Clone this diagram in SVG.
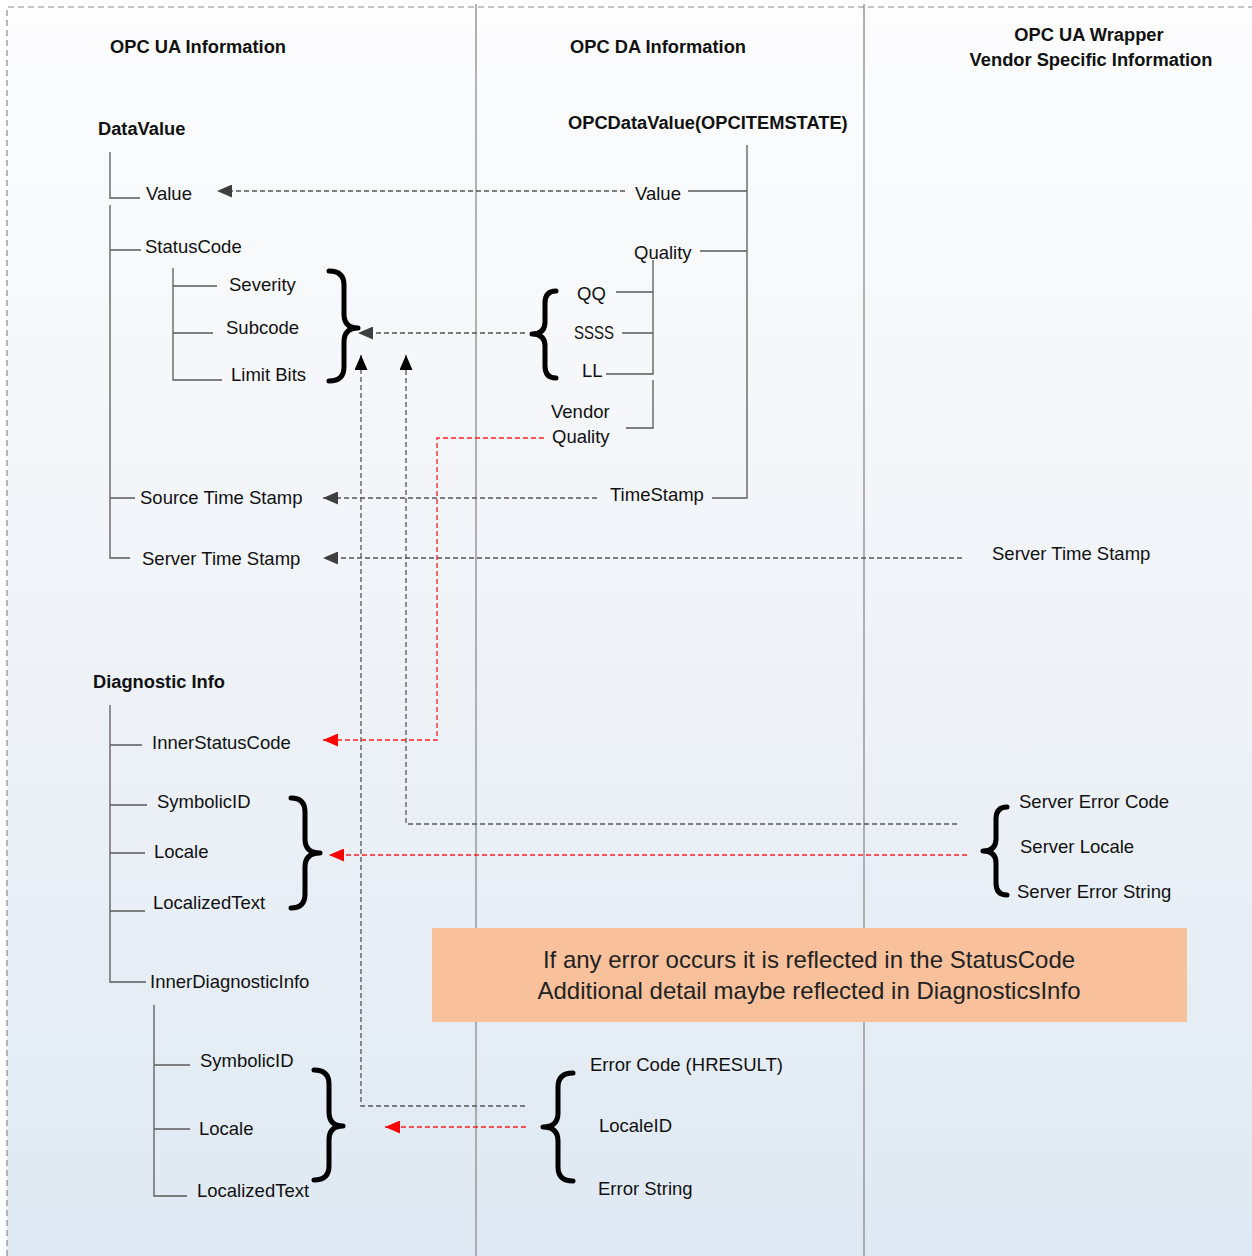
<svg xmlns="http://www.w3.org/2000/svg" width="1252" height="1256" viewBox="0 0 1252 1256">
<defs>
<linearGradient id="bg" x1="0" y1="0" x2="0" y2="1">
<stop offset="0" stop-color="#fdfdfe"/>
<stop offset="0.45" stop-color="#f1f4f8"/>
<stop offset="1" stop-color="#dfe9f3"/>
</linearGradient>
<marker id="ag" viewBox="0 0 15 13" refX="15" refY="6.5" markerWidth="15" markerHeight="13" markerUnits="userSpaceOnUse" orient="auto"><path d="M0,0 L15,6.5 L0,13 z" fill="#3f3f3f"/></marker>
<marker id="ab" viewBox="0 0 15 13" refX="15" refY="6.5" markerWidth="15" markerHeight="13" markerUnits="userSpaceOnUse" orient="auto"><path d="M0,0 L15,6.5 L0,13 z" fill="#000"/></marker>
<marker id="ar" viewBox="0 0 15 13" refX="15" refY="6.5" markerWidth="15" markerHeight="13" markerUnits="userSpaceOnUse" orient="auto"><path d="M0,0 L15,6.5 L0,13 z" fill="#ff0000"/></marker>
</defs>
<style>
text{font-family:"Liberation Sans","DejaVu Sans",sans-serif;font-size:18.5px;fill:#111}
.h{font-weight:bold;font-size:18.3px}
.tree{stroke:#5a5a5a;stroke-width:1.3;fill:none}
.sep{stroke:#8a8a8a;stroke-width:1.3;fill:none}
.brace{stroke:#000;stroke-width:5;fill:none;stroke-linecap:round;stroke-linejoin:round}
.dg{stroke:#555;stroke-width:1.3;stroke-dasharray:5,3;fill:none}
.rd{stroke:#ff2020;stroke-width:1.3;stroke-dasharray:5,3;fill:none}
.note{font-size:24px;fill:#222}
</style>
<rect x="0" y="0" width="1252" height="1256" fill="#fff"/>
<rect x="7" y="7" width="1245" height="1249" fill="url(#bg)"/>
<path d="M7,1256 L7,7 L1252,7" stroke="#8a8a8a" stroke-width="1.2" stroke-dasharray="6,4" fill="none"/>
<g id="separators">
<line class="sep" x1="476" y1="4" x2="476" y2="1256"/>
<line class="sep" x1="864" y1="4" x2="864" y2="1256"/>
</g>
<g id="headers">
<text class="h" x="110" y="53">OPC UA Information</text>
<text class="h" x="570" y="53">OPC DA Information</text>
<text class="h" x="1089" y="41" text-anchor="middle">OPC UA Wrapper</text>
<text class="h" x="1091" y="66" text-anchor="middle">Vendor Specific Information</text>
</g>
<g id="note">
<rect x="432" y="928" width="755" height="94" fill="#f8c19c"/>
<text class="note" x="809" y="968" text-anchor="middle">If any error occurs it is reflected in the StatusCode</text>
<text class="note" x="809" y="999" text-anchor="middle">Additional detail maybe reflected in DiagnosticsInfo</text>
</g>
<g id="datavalue">
<text class="h" x="98" y="135">DataValue</text>
<path class="tree" d="M110,152 L110,198 L140,198 M110,205 L110,558 L130,558 M110,250 L141,250 M110,498 L135,498"/>
<text x="146" y="200">Value</text>
<text x="145" y="253">StatusCode</text>
<text x="140" y="504">Source Time Stamp</text>
<text x="142" y="565">Server Time Stamp</text>
</g>
<g id="statuscode">
<path class="tree" d="M173,268 L173,380 L222,380 M173,286 L217,286 M173,333 L213,333"/>
<text x="229" y="291">Severity</text>
<text x="226" y="334">Subcode</text>
<text x="231" y="381">Limit Bits</text>
<path class="brace" d="M329,271 Q344,271 344,285 L344,314 Q344,328 358,328 Q344,328 344,342 L344,367 Q344,381 329,381"/>
</g>
<g id="opcdatavalue">
<text class="h" x="568" y="129">OPCDataValue(OPCITEMSTATE)</text>
<path class="tree" d="M747,145 L747,498 L712,498 M747,191 L688,191 M747,251 L700,251"/>
<text x="635" y="200">Value</text>
<text x="634" y="259">Quality</text>
<text x="610" y="501">TimeStamp</text>
</g>
<g id="quality">
<path class="tree" d="M653,260 L653,374 L606,374 M653,292 L616,292 M653,333 L622,333 M653,380 L653,428 L626,428"/>
<text x="577" y="300">QQ</text>
<text x="574" y="339" textLength="40" lengthAdjust="spacingAndGlyphs">SSSS</text>
<text x="582" y="377">LL</text>
<text x="551" y="418">Vendor</text>
<text x="552" y="443">Quality</text>
<path class="brace" d="M556,291 Q545,291 545,303 L545,322 Q545,334 532,334 Q545,334 545,346 L545,366 Q545,378 556,378"/>
</g>
<g id="diagnosticinfo">
<text class="h" x="93" y="688">Diagnostic Info</text>
<path class="tree" d="M110,705 L110,982 L146,982 M110,745 L142,745 M110,805 L147,805 M110,853 L145,853 M110,911 L145,911"/>
<text x="152" y="749">InnerStatusCode</text>
<text x="157" y="808">SymbolicID</text>
<text x="154" y="858">Locale</text>
<text x="153" y="909">LocalizedText</text>
<text x="150" y="988">InnerDiagnosticInfo</text>
<path class="brace" d="M291,798 Q305,798 305,812 L305,839 Q305,853 320,853 Q305,853 305,867 L305,894 Q305,908 291,908"/>
</g>
<g id="innerdiagnosticinfo">
<path class="tree" d="M154,1005 L154,1196 L187,1196 M154,1065 L190,1065 M154,1129 L190,1129"/>
<text x="200" y="1067">SymbolicID</text>
<text x="199" y="1135">Locale</text>
<text x="197" y="1197">LocalizedText</text>
<path class="brace" d="M314,1070 Q329,1070 329,1084 L329,1112 Q329,1126 343,1126 Q329,1126 329,1140 L329,1166 Q329,1180 314,1180"/>
</g>
<g id="wrapper">
<text x="992" y="560">Server Time Stamp</text>
<text x="1019" y="808">Server Error Code</text>
<text x="1020" y="853">Server Locale</text>
<text x="1017" y="898">Server Error String</text>
<path class="brace" d="M1007,807 Q996,807 996,819 L996,839 Q996,851 983,851 Q996,851 996,863 L996,883 Q996,895 1007,895"/>
</g>
<g id="hresult">
<text x="590" y="1071">Error Code (HRESULT)</text>
<text x="599" y="1132">LocaleID</text>
<text x="598" y="1195">Error String</text>
<path class="brace" d="M573,1073 Q558,1073 558,1087 L558,1113 Q558,1127 543,1127 Q558,1127 558,1141 L558,1167 Q558,1181 573,1181"/>
</g>
<g id="connectors">
<path class="dg" d="M625,191 L217,191" marker-end="url(#ag)"/>
<path class="dg" d="M525,333 L358,333" marker-end="url(#ag)"/>
<path class="dg" d="M597,498 L323,498" marker-end="url(#ag)"/>
<path class="dg" d="M962,558 L323,558" marker-end="url(#ag)"/>
<path class="dg" d="M525,1106 L361,1106 L361,355" marker-end="url(#ab)"/>
<path class="dg" d="M957,824 L406,824 L406,355" marker-end="url(#ab)"/>
<path class="rd" d="M544,438 L437,438 L437,740 L323,740" marker-end="url(#ar)"/>
<path class="rd" d="M967,855 L329,855" marker-end="url(#ar)"/>
<path class="rd" d="M526,1127 L385,1127" marker-end="url(#ar)"/>
</g>
</svg>
